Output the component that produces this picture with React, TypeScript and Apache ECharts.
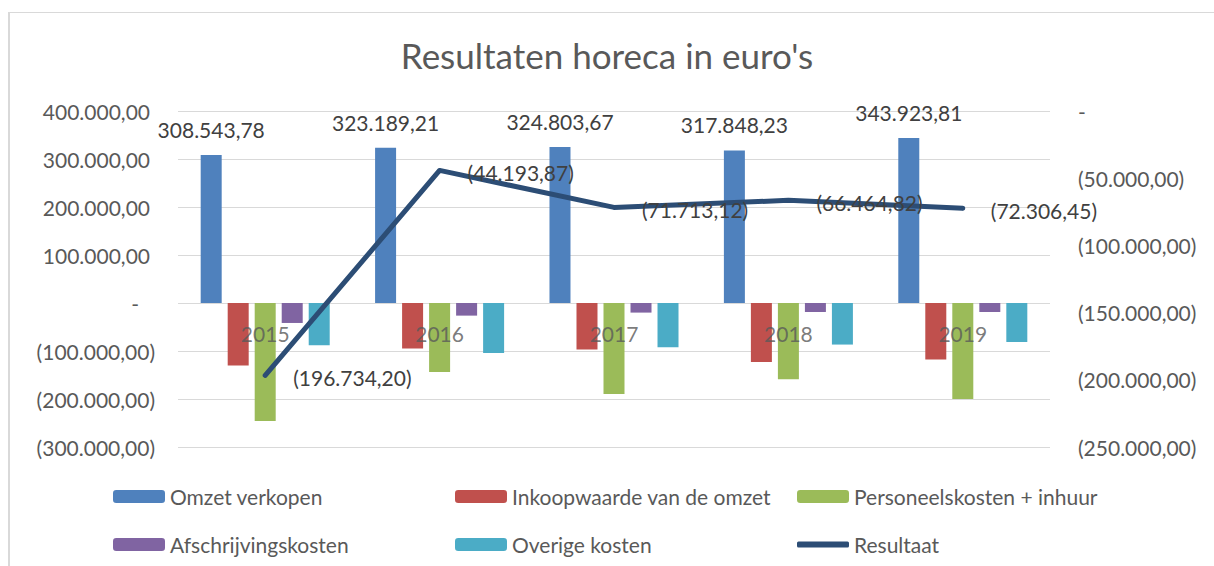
import React, { useEffect, useRef } from "react";
import * as echarts from "echarts";

const years = ["2015", "2016", "2017", "2018", "2019"];
const omzetVerkopen = [308543.78, 323189.21, 324803.67, 317848.23, 343923.81];
const inkoopwaarde = [-130000, -95000, -97000, -122800, -117800];
const personeelskosten = [-246000, -143600, -189400, -158800, -199800];
const afschrijvingskosten = [-41600, -26300, -20000, -18700, -18700];
const overigeKosten = [-88000, -104000, -92200, -86600, -81200];
const resultaat = [-196734.2, -44193.87, -71713.12, -66464.82, -72306.45];

const seriesNames = [
  "Omzet verkopen",
  "Inkoopwaarde van de omzet",
  "Personeelskosten + inhuur",
  "Afschrijvingskosten",
  "Overige kosten",
  "Resultaat",
];
const colors = ["#4F81BD", "#C0504D", "#9BBB59", "#8064A2", "#4BACC6", "#2C4D75"];

function fmt(v: number): string {
  if (Math.abs(v) < 0.005) return "-";
  const a = Math.abs(v);
  const parts = a.toFixed(2).split(".");
  const int = parts[0].replace(/\B(?=(\d{3})+(?!\d))/g, ".");
  const s = int + "," + parts[1];
  return v < 0 ? "(" + s + ")" : s;
}

const FONT = "Lato";
const GREY = "#595959";
const DARK = "#404040";
const FS = 21;

export default function App() {
  const ref = useRef<HTMLDivElement>(null);
  useEffect(() => {
    if (!ref.current) return;
    const chart = echarts.init(ref.current, null, { renderer: "svg" });
    const barData = [omzetVerkopen, inkoopwaarde, personeelskosten, afschrijvingskosten, overigeKosten];
    const legendPos = [
      { left: 108, top: 481 },
      { left: 450, top: 481 },
      { left: 792, top: 481 },
      { left: 108, top: 529 },
      { left: 450, top: 529 },
      { left: 792, top: 529 },
    ];
    const option: any = {
      animation: false,
      color: colors,
      title: {
        text: "Resultaten horeca in euro's",
        left: "center",
        top: 32,
        textStyle: { fontFamily: FONT, fontSize: 35, fontWeight: "normal", color: GREY },
      },
      graphic: [
        { type: "line", shape: { x1: 8, y1: 12.5, x2: 1214, y2: 12.5 }, style: { stroke: "#d9d9d9", lineWidth: 1 } },
        { type: "line", shape: { x1: 9, y1: 12, x2: 9, y2: 566 }, style: { stroke: "#d9d9d9", lineWidth: 2 } },
      ],
      legend: seriesNames.map((n, i) => ({
        data: i === 5 ? [{ name: n, icon: "roundRect" }] : [n],
        left: legendPos[i].left,
        top: legendPos[i].top,
        itemWidth: 52,
        itemHeight: i === 5 ? 6 : 13,
        selectedMode: false,
        textStyle: { fontFamily: FONT, fontSize: FS, color: GREY },
      })),
      grid: { left: 178, right: 164, top: 111, bottom: 119 },
      xAxis: {
        type: "category",
        data: years,
        axisLine: { show: false },
        axisTick: { show: false },
        axisLabel: { show: false },
      },
      yAxis: [
        {
          type: "value",
          min: -300000,
          max: 400000,
          interval: 100000,
          axisLine: { show: false },
          axisTick: { show: false },
          splitLine: { lineStyle: { color: "#d9d9d9", width: 1 } },
          axisLabel: {
            margin: 23,
            formatter: (v: number) => {
              if (Math.abs(v) < 0.005) return "{z|-}";
              if (v > 0) return "{p|" + fmt(v) + "}";
              return "{n|" + fmt(v) + "}";
            },
            rich: {
              z: { fontFamily: FONT, fontSize: FS, color: GREY, padding: [0, 16, 0, 0] },
              p: { fontFamily: FONT, fontSize: FS, color: GREY, padding: [0, 5, 0, 0] },
              n: { fontFamily: FONT, fontSize: FS, color: GREY },
            },
          },
        },
        {
          type: "value",
          min: -250000,
          max: 0,
          interval: 50000,
          axisLine: { show: false },
          axisTick: { show: false },
          splitLine: { show: false },
          axisLabel: {
            margin: 28,
            fontFamily: FONT,
            fontSize: FS,
            color: GREY,
            align: "left",
            formatter: (v: number) => fmt(v),
          },
        },
      ],
      series: [
        ...barData.map((d, i) => ({
          name: seriesNames[i],
          type: "bar",
          yAxisIndex: 0,
          data: d,
          barWidth: 21,
          barGap: "28.6%",
          itemStyle: { color: colors[i] },
          label:
            i === 0
              ? {
                  show: true,
                  position: "top",
                  distance: 15,
                  fontFamily: FONT,
                  fontSize: FS,
                  color: DARK,
                  formatter: (p: any) => fmt(p.value),
                }
              : { show: false },
        })),
        {
          name: seriesNames[5],
          type: "line",
          yAxisIndex: 1,
          data: resultaat,
          z: 5,
          symbol: "circle",
          symbolSize: 4,
          showSymbol: true,
          itemStyle: { color: colors[5] },
          lineStyle: { color: colors[5], width: 5, cap: "round", join: "round" },
          label: {
            show: true,
            position: "right",
            distance: 26,
            offset: [0, 2],
            fontFamily: FONT,
            fontSize: FS,
            color: DARK,
            formatter: (p: any) => fmt(p.value),
          },
        },
        {
          name: "categoryLabels",
          type: "scatter",
          yAxisIndex: 0,
          data: years.map((y) => [y, 0]),
          z: 4,
          symbol: "circle",
          symbolSize: 1,
          silent: true,
          itemStyle: { color: "transparent" },
          label: {
            show: true,
            position: "bottom",
            distance: 19,
            fontFamily: FONT,
            fontSize: FS,
            color: GREY,
            formatter: (p: any) => p.name || p.value[0],
          },
        },
      ],
    };
    chart.setOption(option);
    return () => chart.dispose();
  }, []);
  return (
    <div
      ref={ref}
      style={{ position: "fixed", left: 0, top: 0, width: 1214, height: 566, background: "#fff" }}
    />
  );
}
